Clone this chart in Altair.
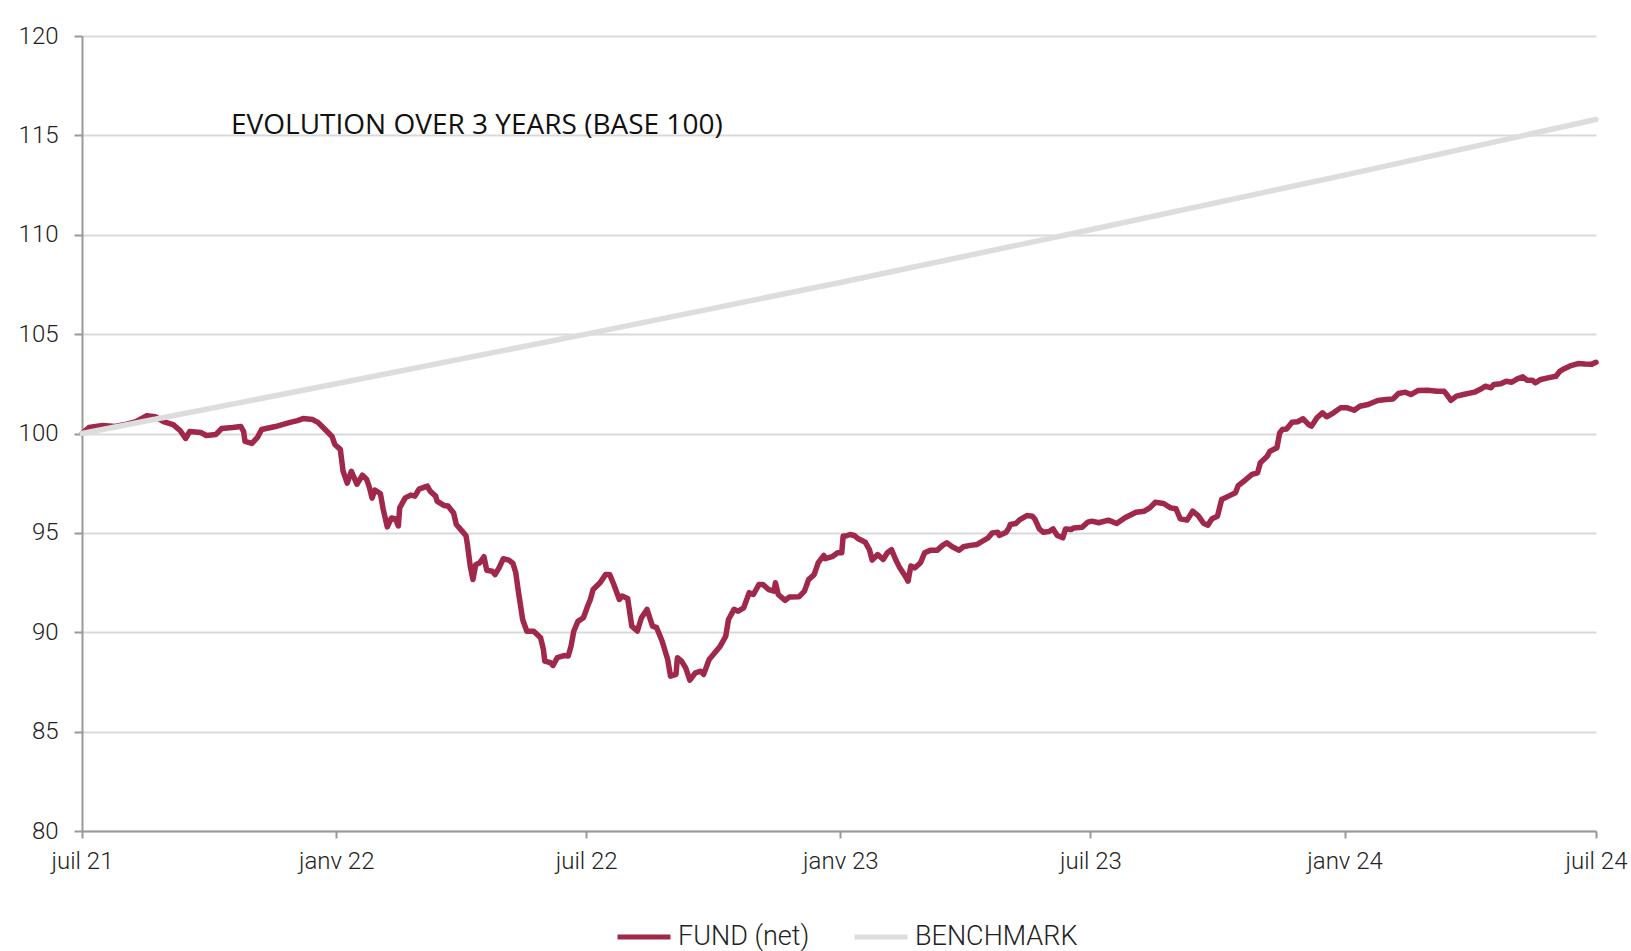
import altair as alt
import pandas as pd

# Fund (net) – day offsets from 2021-07-01 and index values (base 100)
fund_days = [0, 5, 15, 24, 31, 39, 47, 53, 59, 66, 71, 75, 78, 86, 90, 97, 101, 109, 115, 117, 118, 123, 127, 130,
             140, 150, 156, 160, 167, 171, 176, 181, 183, 187, 189, 192, 195, 199, 203, 206, 208, 210, 212, 216,
             218, 221, 224, 227, 229, 230, 234, 238, 241, 244, 250, 252, 256, 257, 262, 265, 269, 271, 275, 278,
             279, 281, 283, 285, 288, 291, 293, 297, 299, 302, 305, 309, 312, 314, 316, 319, 322, 327, 332, 334,
             335, 339, 341, 344, 349, 352, 354, 356, 359, 363, 366, 368, 370, 375, 379, 382, 385, 389, 391, 395,
             398, 402, 405, 409, 413, 416, 420, 424, 426, 430, 431, 434, 437, 440, 444, 448, 450, 454, 459, 462,
             466, 468, 472, 475, 479, 483, 486, 490, 493, 497, 501, 502, 504, 509, 512, 519, 523, 526, 530, 533,
             537, 538, 543, 547, 550, 551, 553, 556, 559, 562, 567, 570, 572, 576, 580, 583, 586, 589, 592, 596,
             598, 600, 603, 607, 610, 614, 619, 623, 626, 630, 635, 638, 643, 648, 653, 656, 659, 663, 664, 669,
             671, 672, 676, 679, 684, 688, 690, 693, 696, 700, 703, 706, 710, 712, 716, 718, 724, 728, 731, 736,
             743, 749, 755, 763, 769, 773, 777, 783, 788, 792, 795, 800, 804, 808, 812, 815, 818, 822, 825, 830,
             835, 837, 842, 847, 851, 853, 858, 860, 865, 867, 869, 872, 876, 880, 884, 888, 890, 894, 898, 901,
             906, 911, 916, 921, 925, 931, 938, 944, 949, 953, 958, 962, 967, 974, 981, 986, 988, 991, 995, 1000,
             1008, 1013, 1016, 1020, 1022, 1027, 1031, 1035, 1039, 1043, 1046, 1050, 1052, 1056, 1062, 1067, 1070,
             1073, 1078, 1083, 1088, 1093, 1096]
fund_values = [100.0, 100.3, 100.4, 100.35, 100.45, 100.6, 100.9, 100.85, 100.6, 100.45, 100.15, 99.75, 100.1, 100.05,
               99.9, 99.95, 100.25, 100.3, 100.35, 100.1, 99.6, 99.5, 99.8, 100.2, 100.35, 100.55, 100.65, 100.75,
               100.7, 100.55, 100.2, 99.85, 99.45, 99.2, 98.1, 97.5, 98.1, 97.45, 97.9, 97.7, 97.3, 96.75, 97.15,
               96.98, 96.2, 95.3, 95.75, 95.7, 95.35, 96.26, 96.76, 96.9, 96.85, 97.2, 97.35, 97.1, 96.85, 96.6,
               96.38, 96.35, 96.0, 95.42, 95.1, 94.85, 94.42, 93.35, 92.65, 93.4, 93.5, 93.8, 93.12, 93.07, 92.9,
               93.25, 93.7, 93.63, 93.46, 93.0, 92.0, 90.64, 90.05, 90.05, 89.72, 89.14, 88.55, 88.47, 88.33, 88.72,
               88.83, 88.8, 89.3, 90.05, 90.55, 90.73, 91.31, 91.65, 92.15, 92.49, 92.9, 92.9, 92.4, 91.65, 91.82,
               91.7, 90.31, 90.06, 90.73, 91.15, 90.31, 90.23, 89.55, 88.63, 87.79, 87.88, 88.72, 88.55, 88.21, 87.59,
               87.96, 88.04, 87.88, 88.63, 89.05, 89.3, 89.8, 90.64, 91.15, 91.06, 91.23, 91.99, 91.9, 92.4, 92.4,
               92.15, 92.07, 92.49, 91.9, 91.6, 91.77, 91.78, 92.07, 92.65, 92.9, 93.5, 93.86, 93.7, 93.8, 94.0, 94.0,
               94.84, 94.84, 94.92, 94.87, 94.7, 94.53, 94.16, 93.63, 93.91, 93.66, 94.0, 94.16, 93.66, 93.24, 92.82,
               92.57, 93.33, 93.24, 93.5, 94.0, 94.12, 94.12, 94.37, 94.5, 94.3, 94.13, 94.3, 94.37, 94.42, 94.63,
               94.75, 95.0, 95.03, 94.87, 95.03, 95.25, 95.42, 95.47, 95.67, 95.87, 95.84, 95.67, 95.2, 95.03, 95.07,
               95.2, 94.87, 94.75, 95.2, 95.17, 95.25, 95.28, 95.54, 95.59, 95.51, 95.64, 95.47, 95.76, 96.04, 96.09,
               96.26, 96.54, 96.48, 96.26, 96.21, 95.71, 95.64, 96.09, 95.87, 95.47, 95.39, 95.71, 95.84, 96.68,
               96.85, 97.02, 97.38, 97.65, 97.94, 98.02, 98.53, 98.86, 99.11, 99.28, 100.03, 100.2, 100.23, 100.57,
               100.59, 100.74, 100.45, 100.37, 100.79, 101.04, 100.84, 101.04, 101.29, 101.29, 101.17, 101.37,
               101.46, 101.66, 101.71, 101.74, 102.01, 102.08, 101.96, 102.16, 102.18, 102.13, 102.13, 101.96,
               101.67, 101.88, 101.96, 102.08, 102.25, 102.38, 102.3, 102.47, 102.5, 102.63, 102.58, 102.75, 102.85,
               102.68, 102.68, 102.55, 102.72, 102.81, 102.88, 103.14, 103.26, 103.42, 103.52, 103.5, 103.49, 103.58]

# Benchmark – day offsets and values
bench_days = [0, 184, 365, 549, 730, 914, 1096]
bench_values = [100.0, 102.5, 105.0, 107.6, 110.25, 113.0, 115.8]

series_names = ["FUND (net)", "BENCHMARK"]
series_colors = ["#A0284A", "#DDDDDD"]
y_ticks = [80, 85, 90, 95, 100, 105, 110, 115, 120]
title_text = "EVOLUTION OVER 3 YEARS (BASE 100)"

start = pd.Timestamp("2021-07-01")
fund_df = pd.DataFrame({
    "date": [(start + pd.Timedelta(days=d)).strftime("%Y-%m-%d") for d in fund_days],
    "value": fund_values,
    "series": series_names[0],
})
bench_df = pd.DataFrame({
    "date": [(start + pd.Timedelta(days=d)).strftime("%Y-%m-%d") for d in bench_days],
    "value": bench_values,
    "series": series_names[1],
})

FONT = "Roboto"

tick_dates = [alt.DateTime(year=y, month=m, date=1, utc=True)
              for (y, m) in [(2021, 7), (2022, 1), (2022, 7), (2023, 1), (2023, 7), (2024, 1), (2024, 7)]]

x_enc = alt.X(
    "date:T",
    scale=alt.Scale(type="utc", domain=[alt.DateTime(year=2021, month=7, date=1, utc=True),
                                        alt.DateTime(year=2024, month=7, date=1, utc=True)]),
    axis=alt.Axis(
        title=None, values=tick_dates, grid=False,
        labelExpr="(utcFormat(datum.value, '%m') == '01' ? 'janv ' : 'juil ') + utcFormat(datum.value, '%y')",
        labelFontSize=24, labelFont=FONT, labelFontWeight=300, labelColor="#222222",
        labelPadding=11, tickSize=7, tickColor="#999999", tickWidth=2,
        domainColor="#999999", domainWidth=2, labelFlush=False,
    ),
)
y_enc = alt.Y(
    "value:Q",
    scale=alt.Scale(domain=[80, 120], nice=False, zero=False),
    axis=alt.Axis(
        title=None, values=y_ticks, grid=True, gridColor="#D9D9D9", gridWidth=2,
        labelFontSize=24, labelFont=FONT, labelFontWeight=300, labelColor="#222222",
        labelPadding=16, tickSize=8, tickColor="#999999", tickWidth=2,
        domainColor="#999999", domainWidth=2,
    ),
)
color_enc = alt.Color(
    "series:N",
    scale=alt.Scale(domain=series_names, range=series_colors),
    legend=alt.Legend(
        orient="none", legendX=533, legendY=872, direction="horizontal", title=None,
        symbolType="stroke", symbolStrokeWidth=5, symbolSize=2809,
        labelFontSize=27, labelFont=FONT, labelFontWeight=300, labelColor="#222222",
        labelOffset=5, columnPadding=34, labelLimit=400,
    ),
)

fund = alt.Chart(fund_df).mark_line(strokeWidth=5.5, strokeJoin="round", strokeCap="round").encode(
    x=x_enc, y=y_enc, color=color_enc
)
bench = alt.Chart(bench_df).mark_line(strokeWidth=5.5, strokeCap="round").encode(
    x=x_enc, y=y_enc, color=color_enc
)
title = alt.Chart(pd.DataFrame({"t": [title_text]})).mark_text(
    align="left", baseline="middle", fontSize=28, font="Open Sans", fontWeight=400, color="#111111"
).encode(x=alt.value(149), y=alt.value(90), text="t:N")

chart = alt.layer(fund, bench, title).properties(
    width=1514, height=795,
    autosize=alt.AutoSizeParams(type="none"),
    padding={"left": 82, "top": 36, "right": 35, "bottom": 120},
).configure_view(stroke=None)

chart.save("out.html", embed_options={"renderer": "svg", "actions": False})
